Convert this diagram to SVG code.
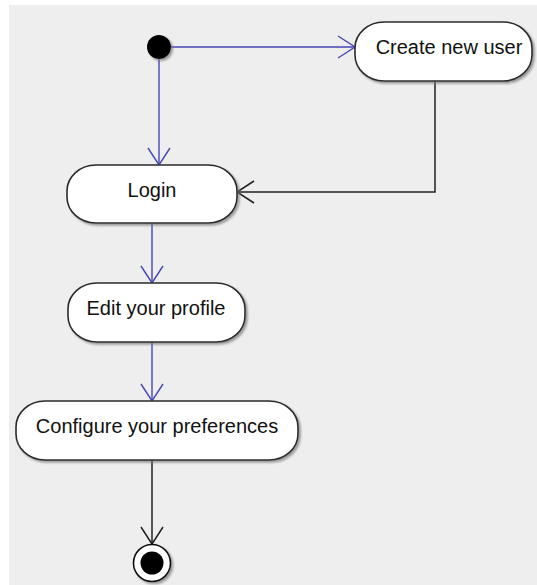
<svg xmlns="http://www.w3.org/2000/svg" width="537" height="585" viewBox="0 0 537 585">
<style>
.node{fill:#ffffff;stroke:#2a2a2a;stroke-width:1.6;filter:url(#sh)}
.lbl{font-family:"Liberation Sans",Arial,sans-serif;font-size:20px;fill:#111;text-anchor:middle}
.blue{stroke:#4646b4;stroke-width:1.4;fill:none}
.black{stroke:#222;stroke-width:1.5;fill:none}
</style>
<defs>
<filter id="sh" x="-20%" y="-20%" width="140%" height="150%">
<feDropShadow dx="2" dy="2" stdDeviation="1" flood-color="#777" flood-opacity="0.7"/>
</filter>
<marker id="ab" markerUnits="userSpaceOnUse" viewBox="-19 -12 21 24" markerWidth="21" markerHeight="24" refX="0" refY="0" orient="auto">
<path d="M-17,-11 L0,0 L-17,11" fill="none" stroke="#4646b4" stroke-width="1.4"/>
</marker>
<marker id="ak" markerUnits="userSpaceOnUse" viewBox="-19 -12 21 24" markerWidth="21" markerHeight="24" refX="0" refY="0" orient="auto">
<path d="M-17,-11 L0,0 L-17,11" fill="none" stroke="#222" stroke-width="1.5"/>
</marker>
</defs>
<rect x="0" y="0" width="537" height="585" fill="#ffffff"/>
<rect x="9" y="5" width="528" height="580" fill="#eeeeee"/>
<g id="connectors">
<path class="blue" d="M171,47 L355,47" marker-end="url(#ab)"/>
<path class="blue" d="M159,59 L159,165" marker-end="url(#ab)"/>
<path class="blue" d="M152,223 L152,283" marker-end="url(#ab)"/>
<path class="blue" d="M152,342 L152,401" marker-end="url(#ab)"/>
<path class="black" d="M435,81 L435,192 L237,192" marker-end="url(#ak)"/>
<path class="black" d="M152,460 L152,544" marker-end="url(#ak)"/>
</g>
<g id="start">
<circle cx="159" cy="47" r="12" fill="#000" filter="url(#sh)"/>
</g>
<g id="create-user">
<rect class="node" x="355" y="22" width="177" height="59" rx="29" ry="26"/>
<text class="lbl" x="449" y="54">Create new user</text>
</g>
<g id="login">
<rect class="node" x="67" y="165" width="170" height="58" rx="29" ry="26"/>
<text class="lbl" x="152" y="197">Login</text>
</g>
<g id="edit-profile">
<rect class="node" x="68" y="283" width="177" height="59" rx="29" ry="26"/>
<text class="lbl" x="156" y="315">Edit your profile</text>
</g>
<g id="configure">
<rect class="node" x="16" y="401" width="282" height="59" rx="29" ry="26"/>
<text class="lbl" x="157" y="433">Configure your preferences</text>
</g>
<g id="end">
<circle cx="152" cy="563" r="18.5" fill="#fff" stroke="#111" stroke-width="1.6" filter="url(#sh)"/>
<circle cx="152" cy="563" r="11.5" fill="#000"/>
</g>
</svg>
